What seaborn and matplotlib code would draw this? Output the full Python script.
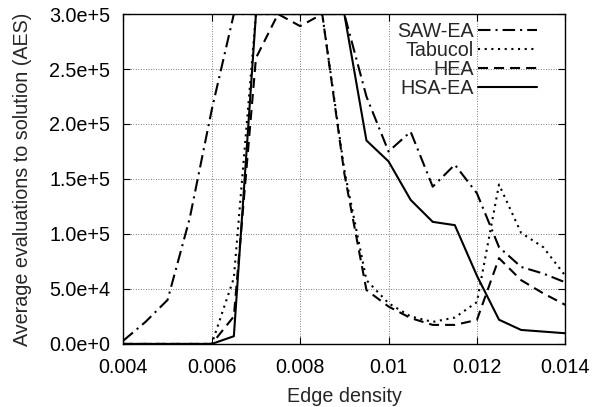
import pandas as pd
import numpy as np
import matplotlib
matplotlib.use('Agg')
import matplotlib.pyplot as plt
import seaborn as sns
from matplotlib.ticker import FuncFormatter

## Data
density = [0.004, 0.0045, 0.005, 0.0055, 0.006, 0.0065, 0.007, 0.0075, 0.008, 0.0085,
           0.009, 0.0095, 0.010, 0.0105, 0.011, 0.0115, 0.012, 0.0125, 0.013, 0.0135, 0.014]
saw_ea = [3000, 20000, 40000, 114000, 213000, 300000, 300000, 300000, 300000, 300000,
          300000, 225000, 175000, 193000, 143000, 163000, 137000, 88000, 70000, 64000, 56000]
tabucol = [0, 0, 0, 0, 0, 60000, 300000, 300000, 300000, 300000,
           158000, 58000, 37000, 25000, 20000, 24000, 38000, 145000, 101000, 88000, 62000]
hea = [0, 0, 0, 0, 0, 25000, 260000, 300000, 289000, 300000,
       155000, 49000, 34000, 23500, 17300, 17300, 21800, 78000, 58000, 46000, 35500]
hsa_ea = [0, 0, 0, 0, 0, 7000, 300000, 300000, 300000, 300000,
          300000, 185000, 166000, 131000, 111000, 108000, 62000, 22000, 12700, 11200, 9700]

algorithms = ['SAW-EA', 'Tabucol', 'HEA', 'HSA-EA']
series = [saw_ea, tabucol, hea, hsa_ea]

df = pd.concat([pd.DataFrame({'density': density, 'aes': s, 'alg': name})
                for name, s in zip(algorithms, series)], ignore_index=True)

sns.set_style('ticks')
plt.rcParams['font.family'] = ['Liberation Sans', 'DejaVu Sans']
fs = 14.2

fig = plt.figure(figsize=(5.96, 4.07), dpi=100)
ax = fig.add_axes([0.207, 0.155, 0.7415, 0.8105])

dashes = {'SAW-EA': (6, 2.4, 1, 2.4), 'Tabucol': (1, 2.2), 'HEA': (4.8, 2.9), 'HSA-EA': ''}
sns.lineplot(data=df, x='density', y='aes', style='alg', style_order=algorithms,
             dashes=dashes, color='black', linewidth=1.5, ax=ax, legend=True)

ax.set_xlim(0.004, 0.014)
ax.set_ylim(0, 300000)
ax.set_xticks([0.004, 0.006, 0.008, 0.010, 0.012, 0.014])
ax.set_yticks([0, 50000, 100000, 150000, 200000, 250000, 300000])
ax.xaxis.set_major_formatter(FuncFormatter(lambda v, p: '%g' % round(v, 6)))

def sci(v, p):
    if v == 0:
        return '0.0e+0'
    e = int(np.floor(np.log10(abs(v))))
    return '%.1fe+%d' % (v / 10 ** e, e)

ax.yaxis.set_major_formatter(FuncFormatter(sci))
ax.tick_params(direction='in', length=5, width=0.8, top=True, right=True,
               labelsize=fs, colors='black')
ax.tick_params(axis='y', pad=9.5)
ax.tick_params(axis='x', pad=10)
ax.grid(True, linestyle=(0, (1, 2)), color='#555555', linewidth=0.6)
for sp in ax.spines.values():
    sp.set_color('black')
    sp.set_linewidth(1.0)

ax.set_xlabel('Edge density', fontsize=fs, labelpad=7)
ax.set_ylabel('Average evaluations to solution (AES)', fontsize=fs, labelpad=12.5)

handles, labels = ax.get_legend_handles_labels()
ax.legend(handles, labels, loc='upper right', bbox_to_anchor=(0.936, 0.977),
          frameon=False, markerfirst=False, handlelength=3.0, handletextpad=0.2,
          labelspacing=0.0, borderpad=0, borderaxespad=0, fontsize=fs)

fig.savefig('out.png', dpi=100)
